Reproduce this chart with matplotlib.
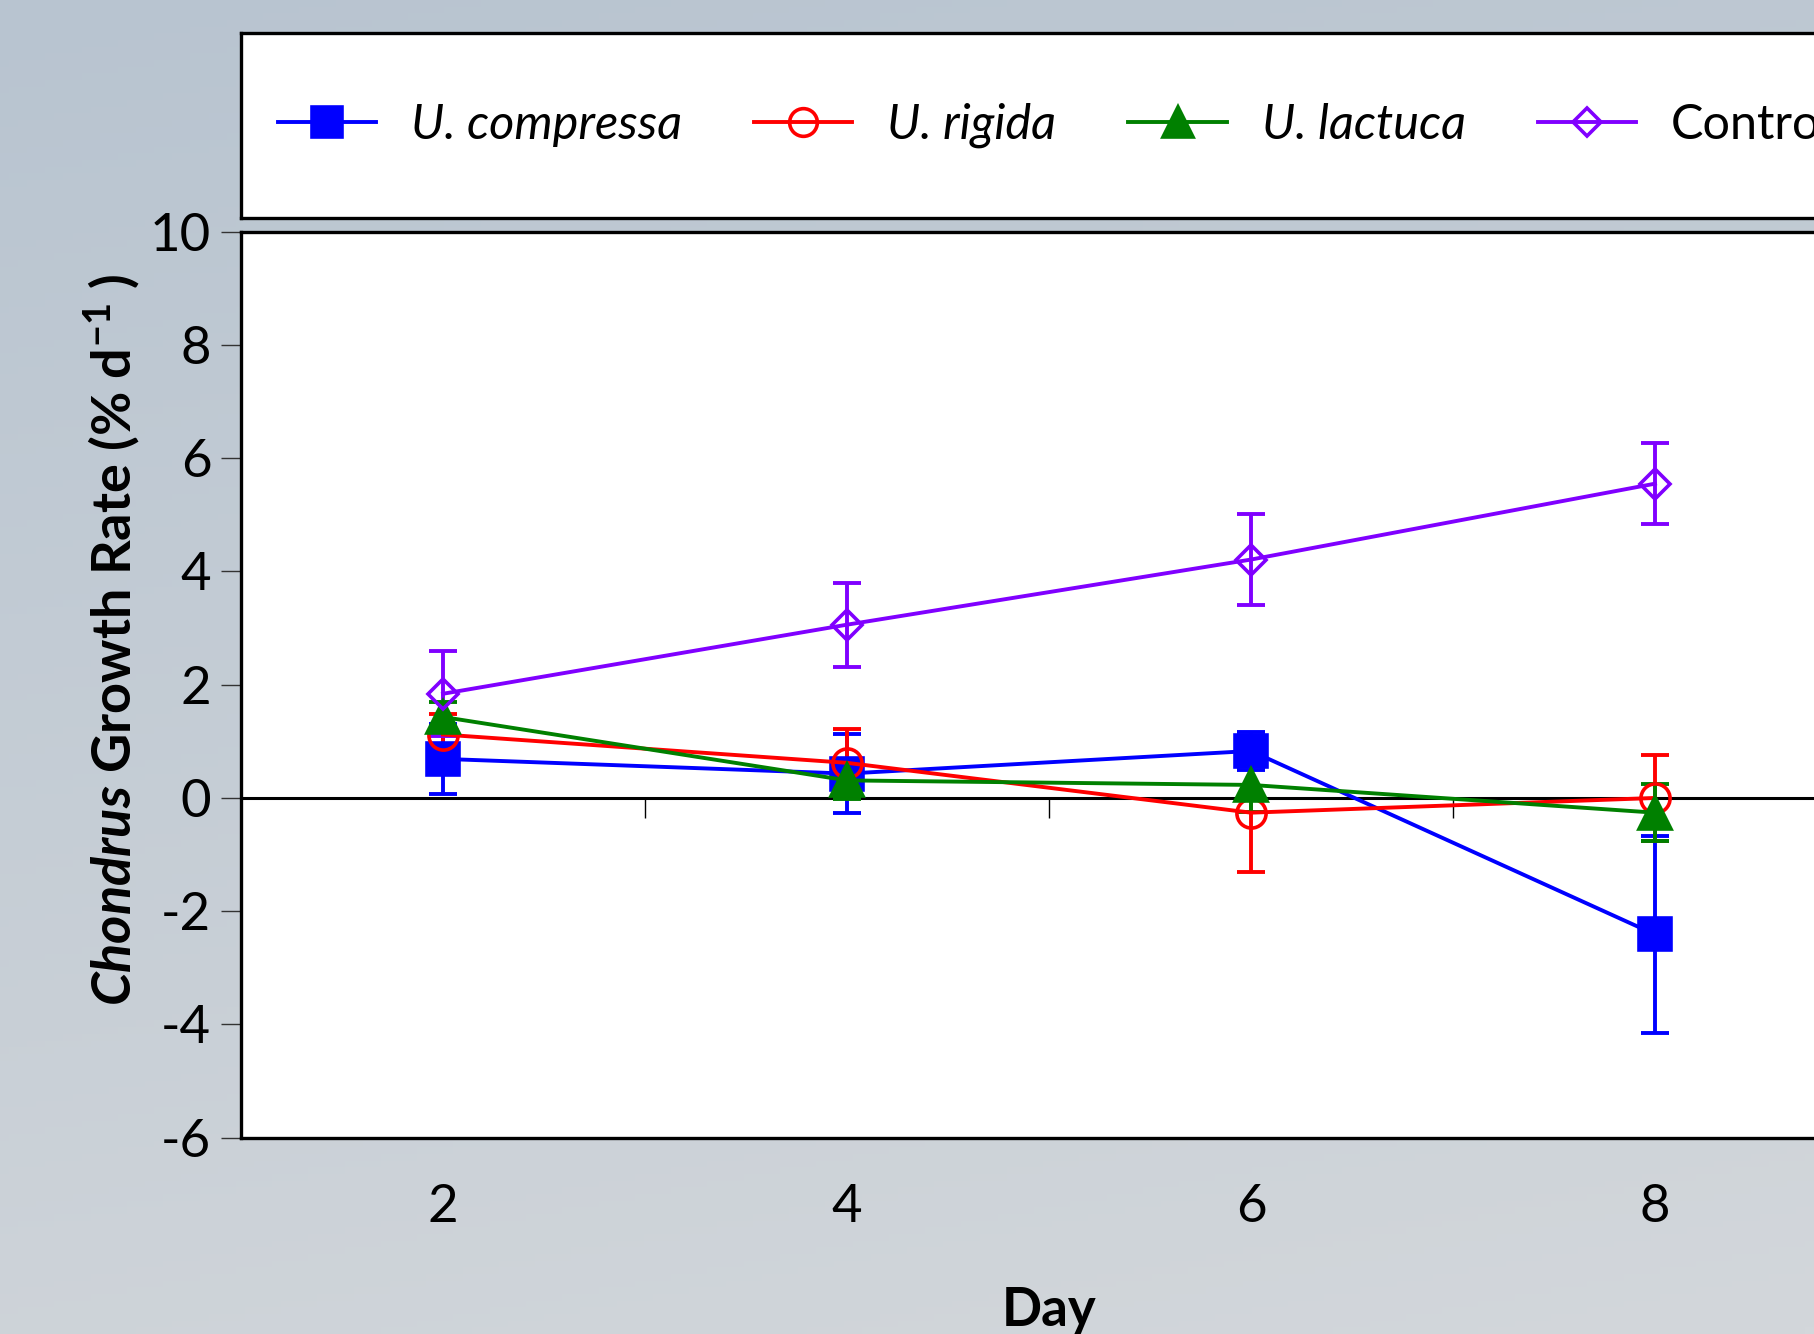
import numpy as np
import matplotlib
matplotlib.use("Agg")
import matplotlib.pyplot as plt

plt.rcParams.update({
    "font.family": ["Lato", "DejaVu Sans"],
    "axes.unicode_minus": False,
    "mathtext.fontset": "custom",
    "mathtext.it": "Lato:italic:bold",
    "mathtext.rm": "Lato:bold",
    "mathtext.bf": "Lato:bold",
})

# ---- data
days = [2, 4, 6, 8]
series_names = ["U. compressa", "U. rigida", "U. lactuca", "Control"]
compressa = [0.69, 0.43, 0.83, -2.41]
compressa_err = [0.62, 0.70, 0.34, 1.74]
rigida = [1.12, 0.62, -0.26, 0.0]
rigida_err = [0.36, 0.59, 1.04, 0.76]
lactuca = [1.43, 0.31, 0.23, -0.26]
lactuca_err = [0.27, 0.33, 0.47, 0.50]
control = [1.84, 3.06, 4.21, 5.55]
control_err = [0.75, 0.74, 0.81, 0.72]
y_ticks = [-6, -4, -2, 0, 2, 4, 6, 8, 10]
x_label_ticks = [2, 4, 6, 8]
x_zero_ticks = [3, 5, 7]

STYLE = [
    dict(color="#0000FF", marker="s", ms=23, mfc="#0000FF"),
    dict(color="#FF0000", marker="o", ms=21, mfc="none"),
    dict(color="#008000", marker="^", ms=23, mfc="#008000"),
    dict(color="#8000FF", marker="D", ms=15, mfc="none"),
]
values = [compressa, rigida, lactuca, control]
errors = [compressa_err, rigida_err, lactuca_err, control_err]

W, H = 1814, 1334
fig = plt.figure(figsize=(W / 100, H / 100), dpi=100)

# background gradient
bg = fig.add_axes([0, 0, 1, 1], zorder=-10)
gy = np.linspace(0, 1, 200)[:, None]
gx = np.linspace(0, 1, 200)[None, :]
top = np.array([184, 196, 208]) / 255
bot = np.array([211, 215, 219]) / 255
t = np.clip(0.8 * gy + 0.2 * gx, 0, 1)[..., None]
bg.imshow(top * (1 - t) + bot * t, aspect="auto", extent=(0, 1, 0, 1), origin="upper")
bg.axis("off")

# main axes (right edge runs past the figure like the original)
ax_left, ax_right = 241, 1857
ax_top, ax_bot = 231.7, 1137.7
ax = fig.add_axes([ax_left / W, (H - ax_bot) / H, (ax_right - ax_left) / W, (ax_bot - ax_top) / H])
ax.set_facecolor("white")

handles = []
for vals, errs, st, name in zip(values, errors, STYLE, series_names):
    ax.errorbar(days, vals, yerr=errs, fmt="none", ecolor=st["color"],
                elinewidth=2.8, capsize=10, capthick=2.8, zorder=3)
    ln, = ax.plot(days, vals, color=st["color"], lw=2.8, marker=st["marker"],
                  ms=st["ms"], mfc=st["mfc"], mec=st["color"], mew=2.6,
                  label=name, zorder=4)
    handles.append(ln)

ax.set_xlim(1, 9)
ax.set_ylim(-6, 10)
ax.set_yticks(y_ticks)
ax.set_xticks(x_label_ticks)
ax.tick_params(axis="y", direction="out", length=14.4, width=1.0, pad=7,
               labelsize=38, color="#333333")
ax.tick_params(axis="x", length=0, pad=33, labelsize=38)
for sp in ("left", "top", "bottom", "right"):
    ax.spines[sp].set_linewidth(2.4)

# zero line with its own ticks at the odd days
zx = ax.secondary_xaxis(0, transform=ax.transData)
zx.spines["bottom"].set_linewidth(2.2)
zx.set_xticks(x_zero_ticks)
zx.set_xticklabels([])
zx.tick_params(direction="out", length=14.4, width=1.0)

ax.set_xlabel("Day", fontsize=38, fontweight="bold")
ax.xaxis.set_label_coords(0.5, -0.164)
ax.set_ylabel(r"$\mathit{Chondrus}$ Growth Rate (% d$^{-1}$ )", fontsize=39,
              fontweight="bold", va="center")
ax.yaxis.set_label_coords(-0.079, 0.5495)

# legend box above the plot
lg_top, lg_bot = 33, 218
lax = fig.add_axes([ax_left / W, (H - lg_bot) / H, (ax_right - ax_left) / W, (lg_bot - lg_top) / H])
lax.set_facecolor("white")
lax.set_xticks([]); lax.set_yticks([])
for sp in lax.spines.values():
    sp.set_linewidth(2.4)
leg = lax.legend(handles, series_names, loc="center left",
                 bbox_to_anchor=((278 - ax_left) / (ax_right - ax_left), 0.5),
                 ncol=4, frameon=False, fontsize=35, handlelength=2.02,
                 handletextpad=0.72, columnspacing=1.48, borderaxespad=0, borderpad=0,
                 markerscale=0.95)
for txt in leg.get_texts()[:3]:
    txt.set_style("italic")

fig.savefig("out.png", dpi=100)
